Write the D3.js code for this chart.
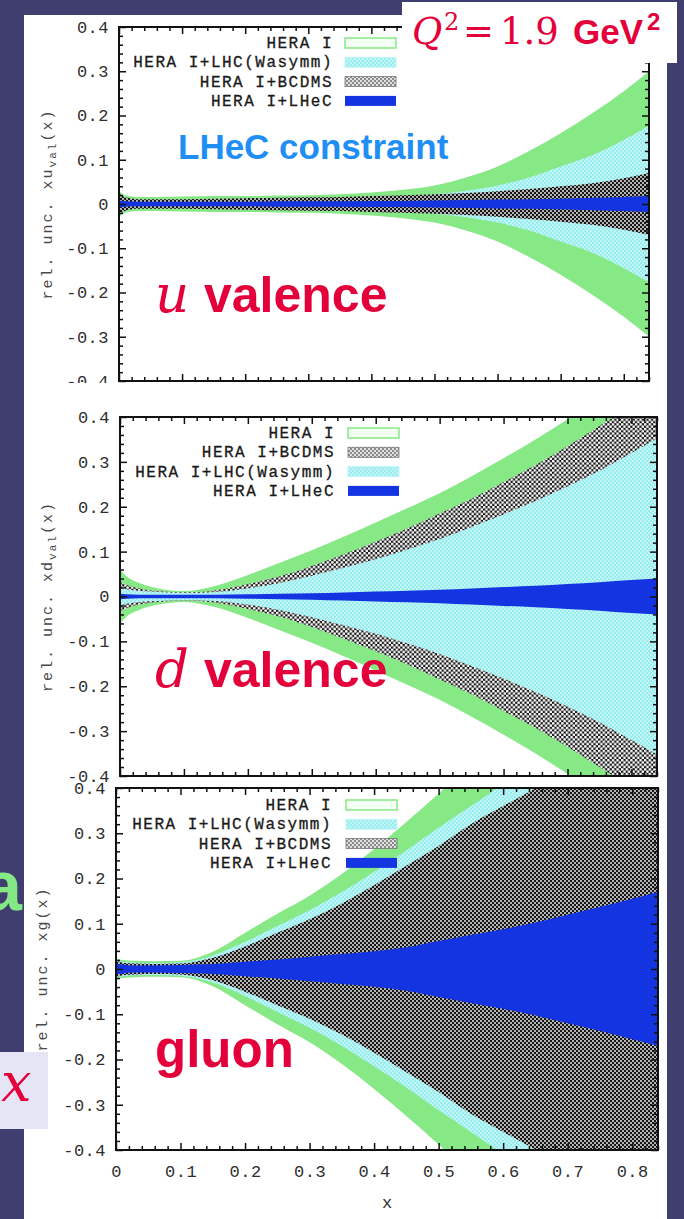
<!DOCTYPE html>
<html>
<head>
<meta charset="utf-8">
<script src="https://cdn.jsdelivr.net/npm/d3@7"></script>
<style>
  html, body { margin: 0; padding: 0; background: #403e6e; }
  svg { display: block; }
</style>
</head>
<body>
<svg id="chart" width="684" height="1219"></svg>
<script>
// x sampling points shared by all uncertainty bands
const xGrid = [0, 0.01, 0.03, 0.06, 0.1, 0.15, 0.2, 0.25, 0.3, 0.35, 0.4, 0.45, 0.5, 0.55, 0.6, 0.65, 0.7, 0.75, 0.8, 0.84];

// relative uncertainty (half-width of the band) for x*u_val
const uvHeraI = [0.030, 0.020, 0.016, 0.016, 0.017, 0.018, 0.018, 0.019, 0.020, 0.022, 0.026, 0.032, 0.042, 0.060, 0.085, 0.120, 0.160, 0.205, 0.255, 0.300];
const uvLHC   = [0.012, 0.010, 0.008, 0.007, 0.007, 0.008, 0.009, 0.010, 0.011, 0.012, 0.014, 0.017, 0.022, 0.030, 0.042, 0.060, 0.085, 0.110, 0.145, 0.177];
const uvBCDMS = [0.025, 0.015, 0.011, 0.011, 0.011, 0.012, 0.013, 0.014, 0.015, 0.016, 0.018, 0.020, 0.022, 0.025, 0.029, 0.034, 0.040, 0.047, 0.058, 0.070];
const uvLHeC  = [0.008, 0.006, 0.005, 0.005, 0.005, 0.005, 0.005, 0.006, 0.006, 0.006, 0.007, 0.007, 0.008, 0.009, 0.010, 0.011, 0.012, 0.014, 0.016, 0.018];

// relative uncertainty for x*d_val
const dvHeraI = [0.060, 0.045, 0.030, 0.018, 0.012, 0.024, 0.048, 0.075, 0.103, 0.133, 0.165, 0.197, 0.230, 0.268, 0.308, 0.350, 0.395, 0.440, 0.485, 0.520];
const dvBCDMS = [0.033, 0.026, 0.018, 0.012, 0.009, 0.014, 0.028, 0.045, 0.068, 0.094, 0.122, 0.152, 0.185, 0.218, 0.255, 0.293, 0.335, 0.380, 0.425, 0.460];
const dvLHC   = [0.020, 0.016, 0.012, 0.010, 0.008, 0.010, 0.018, 0.030, 0.046, 0.064, 0.083, 0.105, 0.128, 0.155, 0.183, 0.213, 0.245, 0.280, 0.320, 0.352];
const dvLHeC  = [0.006, 0.005, 0.004, 0.004, 0.004, 0.004, 0.005, 0.006, 0.007, 0.009, 0.011, 0.013, 0.015, 0.018, 0.021, 0.024, 0.028, 0.032, 0.037, 0.040];

// relative uncertainty for x*g
const gHeraI  = [0.025, 0.020, 0.018, 0.017, 0.018, 0.038, 0.080, 0.122, 0.162, 0.210, 0.265, 0.325, 0.388, 0.455, 0.525, 0.600, 0.680, 0.760, 0.840, 0.900];
const gLHC    = [0.020, 0.016, 0.014, 0.013, 0.015, 0.030, 0.060, 0.095, 0.130, 0.170, 0.215, 0.262, 0.312, 0.360, 0.410, 0.470, 0.530, 0.600, 0.670, 0.730];
const gBCDMS  = [0.018, 0.014, 0.012, 0.011, 0.012, 0.025, 0.050, 0.080, 0.110, 0.145, 0.185, 0.228, 0.272, 0.320, 0.360, 0.400, 0.450, 0.500, 0.550, 0.590];
const gLHeC   = [0.012, 0.010, 0.008, 0.008, 0.009, 0.011, 0.016, 0.021, 0.027, 0.033, 0.039, 0.048, 0.062, 0.075, 0.088, 0.103, 0.120, 0.137, 0.155, 0.170];

// axis ticks
const xTickLabels = ["0", "0.1", "0.2", "0.3", "0.4", "0.5", "0.6", "0.7", "0.8"];
const yTickLabels = ["-0.4", "-0.3", "-0.2", "-0.1", "0", "0.1", "0.2", "0.3", "0.4"];

// legend entries per panel (also the drawing order, back to front)
const legendUv = ["HERA I", "HERA I+LHC(Wasymm)", "HERA I+BCDMS", "HERA I+LHeC"];
const legendDv = ["HERA I", "HERA I+BCDMS", "HERA I+LHC(Wasymm)", "HERA I+LHeC"];
const legendG  = ["HERA I", "HERA I+LHC(Wasymm)", "HERA I+BCDMS", "HERA I+LHeC"];

const xDomain = [0, 0.84];
const yDomain = [-0.4, 0.4];

const RED = "#e4003b";
const GREEN = "#86e986";
const BLUE = "#1434e2";
const MONO = "'Liberation Mono', 'DejaVu Sans Mono', monospace";
const SANS = "'Liberation Sans', Arial, sans-serif";
const SERIF = "'DejaVu Serif', serif";

const svg = d3.select("#chart");
const defs = svg.append("defs");

// fill patterns
function dotPattern(id, size, bg, dot, r) {
  const p = defs.append("pattern").attr("id", id)
    .attr("width", size).attr("height", size).attr("patternUnits", "userSpaceOnUse");
  p.append("rect").attr("width", size).attr("height", size).attr("fill", bg);
  [[size / 4, size / 4], [3 * size / 4, 3 * size / 4]].forEach(([cx, cy]) =>
    p.append("circle").attr("cx", cx).attr("cy", cy).attr("r", r).attr("fill", dot));
}
dotPattern("pCyan", 4, "#98eeee", "#ffffff", 0.75);
dotPattern("pHatchDark", 4, "#161616", "#ffffff", 0.9);
dotPattern("pHatchOpen", 4.6, "#141414", "#ffffff", 1.35);
dotPattern("pHatchKey", 4, "#8a8a8a", "#ffffff", 1.0);

function bandFill(name, key) {
  if (name === "HERA I") return GREEN;
  if (name === "HERA I+LHC(Wasymm)") return "url(#pCyan)";
  if (name === "HERA I+BCDMS") return key === "d" ? "url(#pHatchOpen)" : "url(#pHatchDark)";
  return BLUE;
}

const panels = [
  { key: "u", l: 119, r: 649, t: 27, b: 381, sheetT: 15, sheetB: 383,
    legend: legendUv, values: [uvHeraI, uvLHC, uvBCDMS, uvLHeC],
    legendRight: 333, legendY: 43, legendSw: 345,
    title: ["rel. unc. xu", "val", "(x)"], titleX: 52, xLabels: false },
  { key: "d", l: 120, r: 657, t: 417, b: 776, sheetT: 383, sheetB: 783,
    legend: legendDv, values: [dvHeraI, dvBCDMS, dvLHC, dvLHeC],
    legendRight: 335, legendY: 433, legendSw: 348,
    title: ["rel. unc. xd", "val", "(x)"], titleX: 52, xLabels: false },
  { key: "g", l: 116, r: 658, t: 788, b: 1150, sheetT: 783, sheetB: 1219,
    legend: legendG, values: [gHeraI, gLHC, gBCDMS, gLHeC],
    legendRight: 332, legendY: 805, legendSw: 346,
    title: ["rel. unc. xg(x)"], titleX: 47, xLabels: true }
];

const yMajor = yTickLabels.map(Number);
const xMajor = xTickLabels.map(Number);
const yMinor = d3.range(-20, 21).map(i => +(i * 0.02).toFixed(2)).filter(v => !yMajor.some(m => Math.abs(m - v) < 1e-9));
const xMinor = d3.range(0, 43).map(i => +(i * 0.02).toFixed(2)).filter(v => v <= 0.84 && !xMajor.some(m => Math.abs(m - v) < 1e-9));

function styleAxis(sel) {
  sel.select(".domain").remove();
  sel.selectAll(".tick line").attr("stroke", "#111").attr("stroke-width", 1.5);
  sel.selectAll(".tick text").attr("fill", "#2e2e2e")
    .style("font-family", MONO).style("font-size", "17px").style("letter-spacing", "0.5px");
}

panels.forEach(p => {
  const g = svg.append("g");
  g.append("rect").attr("x", 24).attr("y", p.sheetT).attr("width", 643)
    .attr("height", p.sheetB - p.sheetT).attr("fill", "#ffffff");

  const x = d3.scaleLinear().domain(xDomain).range([p.l, p.r]);
  const y = d3.scaleLinear().domain(yDomain).range([p.b, p.t]);

  defs.append("clipPath").attr("id", "clip-" + p.key).append("rect")
    .attr("x", p.l).attr("y", p.t).attr("width", p.r - p.l).attr("height", p.b - p.t);

  const area = d3.area()
    .x((d, i) => x(xGrid[i]))
    .y0(d => y(-d)).y1(d => y(d))
    .curve(d3.curveMonotoneX);

  const bands = g.append("g").attr("clip-path", `url(#clip-${p.key})`);
  p.legend.forEach((name, i) => {
    bands.append("path").datum(p.values[i]).attr("d", area).attr("fill", bandFill(name, p.key));
  });

  // inward ticks on all four sides
  const left = g.append("g").attr("transform", `translate(${p.l},0)`)
    .call(d3.axisLeft(y).tickValues(yMajor).tickSize(-7).tickPadding(10)
      .tickFormat((d, i) => yTickLabels[i]));
  styleAxis(left);
  styleAxis(g.append("g").attr("transform", `translate(${p.l},0)`)
    .call(d3.axisLeft(y).tickValues(yMinor).tickSize(-4).tickFormat("")));
  styleAxis(g.append("g").attr("transform", `translate(${p.r},0)`)
    .call(d3.axisRight(y).tickValues(yMajor).tickSize(-7).tickFormat("")));
  styleAxis(g.append("g").attr("transform", `translate(${p.r},0)`)
    .call(d3.axisRight(y).tickValues(yMinor).tickSize(-4).tickFormat("")));
  styleAxis(g.append("g").attr("transform", `translate(0,${p.t})`)
    .call(d3.axisTop(x).tickValues(xMajor).tickSize(-7).tickFormat("")));
  styleAxis(g.append("g").attr("transform", `translate(0,${p.t})`)
    .call(d3.axisTop(x).tickValues(xMinor).tickSize(-4).tickFormat("")));
  const bottom = g.append("g").attr("transform", `translate(0,${p.b})`)
    .call(d3.axisBottom(x).tickValues(xMajor).tickSize(-7).tickPadding(15)
      .tickFormat((d, i) => p.xLabels ? xTickLabels[i] : ""));
  styleAxis(bottom);
  styleAxis(g.append("g").attr("transform", `translate(0,${p.b})`)
    .call(d3.axisBottom(x).tickValues(xMinor).tickSize(-4).tickFormat("")));

  g.append("rect").attr("x", p.l).attr("y", p.t).attr("width", p.r - p.l).attr("height", p.b - p.t)
    .attr("fill", "none").attr("stroke", "#111").attr("stroke-width", 2);

  // legend
  p.legend.forEach((name, i) => {
    const cy = p.legendY + i * 19.3;
    g.append("text").attr("x", p.legendRight).attr("y", cy + 5).attr("text-anchor", "end")
      .attr("fill", "#1a1a1a").attr("stroke", "#1a1a1a").attr("stroke-width", 0.3)
      .style("font-family", MONO).style("font-size", "16px")
      .style("letter-spacing", "1.5px").text(name);
    const sw = g.append("rect").attr("x", p.legendSw).attr("y", cy - 5).attr("width", 51).attr("height", 10);
    if (name === "HERA I") sw.attr("fill", "#f4fff4").attr("stroke", GREEN).attr("stroke-width", 1.5);
    else if (name === "HERA I+LHC(Wasymm)") sw.attr("fill", "url(#pCyan)").attr("stroke", "#bff6f6").attr("stroke-width", 1);
    else if (name === "HERA I+BCDMS") sw.attr("fill", "url(#pHatchKey)").attr("stroke", "#777").attr("stroke-width", 0.8);
    else sw.attr("fill", BLUE);
  });

  // rotated y title
  const t = g.append("text")
    .attr("transform", `translate(${p.titleX},${(p.t + p.b) / 2}) rotate(-90)`)
    .attr("text-anchor", "middle").attr("fill", "#4a4a4a")
    .style("font-family", MONO).style("font-size", "15px").style("letter-spacing", "2px");
  t.append("tspan").text(p.title[0]);
  if (p.title.length > 1) {
    t.append("tspan").attr("dy", 4).style("font-size", "11px").text(p.title[1]);
    t.append("tspan").attr("dy", -4).text(p.title[2]);
  }

  if (p.xLabels) {
    g.append("text").attr("x", 387).attr("y", 1208).attr("text-anchor", "middle")
      .attr("fill", "#2e2e2e").style("font-family", MONO).style("font-size", "17px").text("x");
  }

  // panel annotation
  if (p.key === "u") {
    g.append("text").attr("x", 178).attr("y", 159).attr("fill", "#1f8ff5")
      .style("font-family", SANS).style("font-weight", "bold").style("font-size", "35px")
      .text("LHeC constraint");
  }
  const ann = g.append("text").attr("x", 155).attr("fill", RED)
    .attr("y", p.key === "u" ? 312 : p.key === "d" ? 687 : 1067);
  if (p.key === "g") {
    ann.style("font-family", SANS).style("font-weight", "bold").style("font-size", "51px").text("gluon");
  } else {
    ann.append("tspan").style("font-family", SERIF).style("font-style", "italic")
      .style("font-size", "53px").text(p.key);
    ann.append("tspan").attr("x", 204).style("font-family", SANS).style("font-weight", "bold")
      .style("font-size", "50px").text("valence");
  }
});

// scale label box
svg.append("rect").attr("x", 402).attr("y", 2).attr("width", 275).attr("height", 61).attr("fill", "#ffffff");
const q = svg.append("text").attr("y", 44).attr("fill", RED);
q.append("tspan").attr("x", 412).style("font-family", SERIF).style("font-style", "italic").style("font-size", "37px").text("Q");
q.append("tspan").attr("x", 444).attr("dy", -14).style("font-family", SERIF).style("font-size", "24px").text("2");
q.append("tspan").attr("x", 463).attr("dy", 14).style("font-family", SERIF).style("font-size", "37px").text("=");
q.append("tspan").attr("x", 500).style("font-family", SERIF).style("font-size", "37px").text("1.9");
q.append("tspan").attr("x", 573).style("font-family", SANS).style("font-weight", "bold").style("font-size", "35px").text("GeV");
q.append("tspan").attr("x", 647).attr("dy", -14).style("font-family", SANS).style("font-weight", "bold").style("font-size", "24px").text("2");

// slide elements at the left margin
svg.append("text").attr("x", 22).attr("y", 910).attr("text-anchor", "end").attr("fill", "#84e884")
  .style("font-family", SANS).style("font-weight", "bold").style("font-size", "70px").text("a");
svg.append("rect").attr("x", 0).attr("y", 1052).attr("width", 48).attr("height", 77).attr("fill", "#e5e5f6");
svg.append("text").attr("x", 1).attr("y", 1101).attr("fill", RED)
  .style("font-family", SERIF).style("font-style", "italic").style("font-size", "54px").text("x");
</script>
</body>
</html>
